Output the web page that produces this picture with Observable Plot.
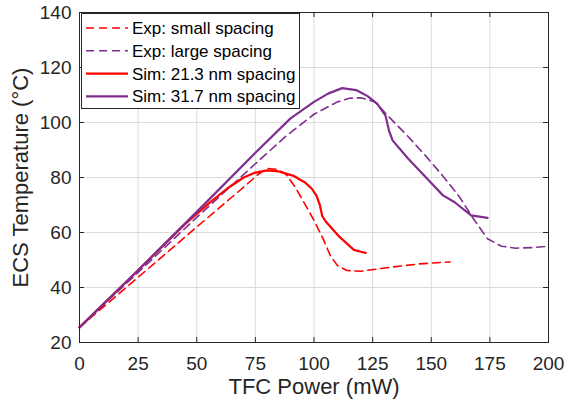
<!DOCTYPE html>
<html><head><meta charset="utf-8">
<script src="https://cdn.jsdelivr.net/npm/d3@7"></script>
<script src="https://cdn.jsdelivr.net/npm/@observablehq/plot@0.6"></script>
<style>body{margin:0;background:#fff}#chart{width:565px;height:406px}</style>
</head><body><div id="chart"></div>
<script>
const xTicks = [0, 25, 50, 75, 100, 125, 150, 175, 200];
const yTicks = [20, 40, 60, 80, 100, 120, 140];
const seriesNames = ["Exp: small spacing", "Exp: large spacing", "Sim: 21.3 nm spacing", "Sim: 31.7 nm spacing"];
const seriesColors = ["#FF0000", "#7E2F8E", "#FF0000", "#7E2F8E"];
const seriesDashed = [true, true, false, false];

const expSmallX = [0, 25, 50, 70, 76, 80, 84, 88, 92, 96, 100, 104, 107, 110, 114, 120, 131, 145, 158];
const expSmallY = [25.5, 43.7, 62, 76.5, 81, 83.3, 83, 81.3, 76.5, 70.5, 64.4, 57.5, 51.5, 48, 46.2, 45.9, 47.2, 48.6, 49.3];

const expLargeX = [0, 25, 50, 75, 88, 100, 110, 115, 120, 126, 132, 140, 148, 155, 162, 168, 174, 180, 186, 193, 200];
const expLargeY = [25.5, 45.5, 65.5, 85, 95, 103, 107.5, 108.8, 109, 107.5, 102, 95, 87.5, 80.5, 73, 65, 57.7, 55, 54.3, 54.5, 55];

const simSmallX = [0, 25, 45, 55, 63, 70, 75, 80, 85, 91, 96, 99, 101, 102.5, 103.5, 105, 111, 117, 120, 122];
const simSmallY = [25.5, 46.3, 63, 70.5, 76, 80, 81.8, 82.6, 82.2, 80.7, 78.3, 76, 73.5, 70, 66, 64, 58.3, 53.7, 53, 52.6];

const simLargeX = [0, 25, 50, 75, 90, 100, 106, 112, 118, 123, 127, 130.5, 132, 133.5, 140, 150, 155, 160, 167, 174];
const simLargeY = [25.5, 46.3, 67.5, 89, 101.5, 107.5, 110.5, 112.5, 111.8, 109.5, 106.8, 102.5, 97, 93.5, 87, 78, 73.5, 71, 66.2, 65.3];

const seriesX = [expSmallX, expLargeX, simSmallX, simLargeX];
const seriesY = [expSmallY, expLargeY, simSmallY, simLargeY];

const W = 565, H = 406, mL = 79, mR = 17, mT = 12, mB = 64;
const fw = W - mL - mR, fh = H - mT - mB;
const font = "'Liberation Sans', Arial, Helvetica, sans-serif";
const ink = "#262626";

const lineMarks = seriesNames.map((name, i) => {
  const rows = seriesX[i].map((x, j) => ({x, y: seriesY[i][j]}));
  return Plot.line(rows, {
    x: "x", y: "y", stroke: seriesColors[i],
    strokeWidth: seriesDashed[i] ? 1.6 : 2.2,
    strokeDasharray: seriesDashed[i] ? "8,5" : null,
    curve: "linear"
  });
});

const svg = Plot.plot({
  width: W, height: H,
  marginLeft: mL, marginRight: mR, marginTop: mT, marginBottom: mB,
  style: {fontFamily: font, fontSize: "19px", color: ink, background: "#fff"},
  x: {domain: [0, 200], ticks: xTicks, tickSize: 0, tickPadding: 14, label: null, tickFormat: d => String(d)},
  y: {domain: [20, 140], ticks: yTicks, tickSize: 0, tickPadding: 8, label: null, tickFormat: d => String(d)},
  marks: [
    Plot.ruleX(xTicks.slice(1, -1), {x: d => d, stroke: "#dcdcdc", strokeWidth: 1}),
    Plot.ruleY(yTicks.slice(1, -1), {y: d => d, stroke: "#dcdcdc", strokeWidth: 1}),
    ...lineMarks,
    Plot.ruleX(xTicks, {x: d => d, insetTop: fh - 5, stroke: ink}),
    Plot.ruleX(xTicks, {x: d => d, insetBottom: fh - 5, stroke: ink}),
    Plot.ruleY(yTicks, {y: d => d, insetRight: fw - 5, stroke: ink}),
    Plot.ruleY(yTicks, {y: d => d, insetLeft: fw - 5, stroke: ink}),
    Plot.frame({stroke: ink, strokeWidth: 1}),
    Plot.text(["TFC Power (mW)"], {frameAnchor: "bottom", dy: 44, fontSize: 22, fill: ink, textAnchor: "middle", lineAnchor: "middle"}),
    Plot.text(["ECS Temperature (°C)"], {frameAnchor: "left", dx: -59, rotate: -90, fontSize: 22, fill: ink, textAnchor: "middle", lineAnchor: "middle"})
  ]
});
document.getElementById("chart").appendChild(svg);

// legend (inside plot, top-left)
const lg = d3.select(svg).append("g").attr("font-family", font).attr("font-size", 17).attr("text-anchor", "start");
lg.append("rect").attr("x", 81.5).attr("y", 13.5).attr("width", 218).attr("height", 95)
  .attr("fill", "#fff").attr("stroke", ink).attr("stroke-width", 1);
seriesNames.forEach((name, i) => {
  const cy = 28 + i * 22.8;
  lg.append("line").attr("x1", 86).attr("x2", 128).attr("y1", cy).attr("y2", cy)
    .attr("stroke", seriesColors[i]).attr("stroke-width", seriesDashed[i] ? 1.6 : 2.2)
    .attr("stroke-dasharray", seriesDashed[i] ? "8,5" : null);
  lg.append("text").attr("x", 132).attr("y", cy).attr("dy", "0.35em").attr("fill", "#000")
    .attr("text-anchor", "start").text(name);
});
</script></body></html>
